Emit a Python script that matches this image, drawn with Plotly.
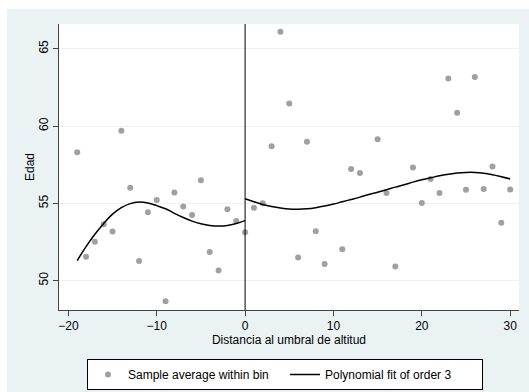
import plotly.graph_objects as go

# Bin averages (x = distance bin, y = average age)
bin_x = [-19, -18, -17, -16, -15, -14, -13, -12, -11, -10, -9, -8, -7, -6, -5, -4, -3, -2, -1,
         0, 1, 2, 3, 4, 5, 6, 7, 8, 9, 11, 12, 13, 15, 16, 17, 19, 20, 21, 22, 23, 24, 25, 26, 27, 28, 29, 30]
bin_y = [58.3, 51.55, 52.52, 53.64, 53.17, 59.7, 56.0, 51.27, 54.42, 55.22, 48.67, 55.7, 54.79, 54.25, 56.5, 51.85, 50.65, 54.62, 53.86,
         53.13, 54.71, 55.0, 58.7, 66.1, 61.46, 51.49, 58.99, 53.19, 51.08, 52.03, 57.22, 56.96, 59.14, 55.67, 50.91, 57.32, 55.02, 56.57, 55.67, 63.08, 60.86, 55.88, 63.17, 55.93, 57.39, 53.75, 55.9]

# Polynomial fit (order 3), left and right of the threshold
fitL_x = [-19, -18, -17, -16, -15, -14, -13, -12, -11, -10, -9, -8, -7, -6, -5, -4, -3, -2, -1, 0]
fitL_y = [51.3, 52.2, 53.0, 53.7, 54.3, 54.72, 54.98, 55.08, 55.02, 54.85, 54.65, 54.35, 54.08, 53.85, 53.68, 53.57, 53.53, 53.57, 53.7, 53.88]
fitR_x = list(range(0, 31))
fitR_y = [55.3, 55.1, 54.93, 54.8, 54.7, 54.63, 54.62, 54.65, 54.72, 54.82, 54.95, 55.1, 55.25, 55.4, 55.57, 55.72,
          55.88, 56.05, 56.2, 56.37, 56.52, 56.65, 56.78, 56.88, 56.96, 57.0, 57.0, 56.95, 56.85, 56.72, 56.58]

x_ticks = [-20, -10, 0, 10, 20, 30]
y_ticks = [50, 55, 60, 65]

BG = "#EAF2F3"
FONT = "Liberation Sans, Arial, sans-serif"

fig = go.Figure()
fig.add_trace(go.Scatter(x=bin_x, y=bin_y, mode="markers", name="Sample average within bin",
                         marker=dict(color="#a0a0a0", size=6, line=dict(width=0))))
fig.add_trace(go.Scatter(x=fitL_x, y=fitL_y, mode="lines", name="Polynomial fit of order 3",
                         line=dict(color="black", width=1.5, shape="spline")))
fig.add_trace(go.Scatter(x=fitR_x, y=fitR_y, mode="lines", showlegend=False,
                         line=dict(color="black", width=1.5, shape="spline")))

fig.add_shape(type="line", xref="x", yref="paper", x0=0, x1=0, y0=0, y1=1,
              line=dict(color="black", width=1))
# white strips at top and left of the graph region
fig.add_shape(type="rect", xref="paper", yref="paper", x0=-0.2, x1=(7 - 59) / 460, y0=-0.4, y1=1.2,
              fillcolor="white", line=dict(width=0), layer="below")
fig.add_shape(type="rect", xref="paper", yref="paper", x0=-0.2, x1=1.1, y0=1 + 15 / 286, y1=1.2,
              fillcolor="white", line=dict(width=0), layer="below")

fig.update_layout(
    width=529, height=392,
    margin=dict(l=59, r=10, t=24, b=82, autoexpand=False),
    paper_bgcolor=BG, plot_bgcolor="white",
    font=dict(family=FONT, size=12, color="black"),
    showlegend=True,
    legend=dict(orientation="h", x=(87 - 59) / 460, y=-(359 - 310) / 286, xanchor="left", yanchor="top",
                bordercolor="black", borderwidth=1, bgcolor="white",
                font=dict(size=12), entrywidth=152, itemwidth=30, tracegroupgap=0),
    xaxis=dict(range=[-21.06, 31.0], tickvals=x_ticks, ticks="outside", ticklen=5, tickcolor="#444",
               showgrid=False, zeroline=False, showline=True, linecolor="#444", linewidth=1,
               title=dict(text="Distancia al umbral de altitud", font=dict(size=12), standoff=2),
               tickfont=dict(size=12)),
    yaxis=dict(range=[48.1, 66.6], tickvals=y_ticks, ticks="outside", ticklen=5, tickcolor="#444",
               tickangle=-90, showgrid=True, gridcolor=BG, gridwidth=1, zeroline=False,
               showline=True, linecolor="#444", linewidth=1,
               title=dict(text="Edad", font=dict(size=12), standoff=0),
               tickfont=dict(size=12)),
)

fig.write_html("out.html")
